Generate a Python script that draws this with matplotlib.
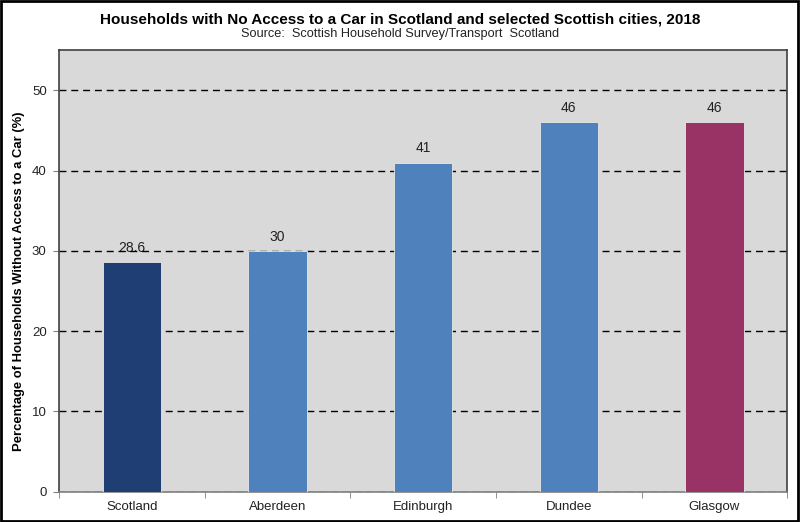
import numpy as np
import matplotlib.pyplot as plt
from matplotlib.patches import Rectangle

plt.rcParams['font.family'] = ['Liberation Sans', 'DejaVu Sans']

places = ["Scotland", "Aberdeen", "Edinburgh", "Dundee", "Glasgow"]
no_car = [28.6, 30, 41, 46, 46]
labels = ["28.6", "30", "41", "46", "46"]
colours = ["#1F3F74", "#4F81BD", "#4F81BD", "#4F81BD", "#993366"]

fig = plt.figure(figsize=(8, 5.22), dpi=100)
ax = fig.add_axes([0.074, 0.058, 0.91, 0.846])
ax.set_facecolor("#D9D9D9")

x = np.arange(len(places))
bars = ax.bar(x, no_car, width=0.4, color=colours, edgecolor="#E8E8E8",
              linewidth=0.6, zorder=3)
for xi, v, lab in zip(x, no_car, labels):
  # labels sit under the dashed grid, as in the original
  ax.text(xi, v + 0.9, lab, ha='center', va='bottom', fontsize=10,
          color='#222222', zorder=0.3)

ax.set_xlim(-0.5, len(places) - 0.5)
ax.set_ylim(0, 55)
ax.set_yticks([0, 10, 20, 30, 40, 50])
ax.set_xticks(x)
ax.set_xticklabels(places)
ax.set_xticks(np.arange(-0.5, len(places), 1), minor=True)
ax.tick_params(axis='x', which='major', length=0, pad=7, labelsize=9.5,
               labelcolor='#222222')
ax.tick_params(axis='x', which='minor', length=4, color='#808080')
ax.tick_params(axis='y', length=4, color='#808080', labelsize=9.5,
               labelcolor='#222222', pad=5)
ax.yaxis.grid(True, color='black', linestyle=(0, (5, 3.5)), linewidth=1.0)
ax.set_axisbelow(True)
for s in ax.spines.values():
  s.set_color('#404040')
  s.set_linewidth(1.2)
ax.spines['bottom'].set_color('#808080')

ax.set_ylabel("Percentage of Households Without Access to a Car (%)",
              fontsize=9.4, fontweight='bold')
ax.yaxis.set_label_coords(-0.047, 0.476)

fig.text(0.5, 0.963, "Households with No Access to a Car in Scotland and selected Scottish cities, 2018",
         ha='center', va='center', fontsize=11, fontweight='bold')
fig.text(0.5, 0.935, "Source:  Scottish Household Survey/Transport  Scotland",
         ha='center', va='center', fontsize=9.2, color='#222222')

fig.patches.append(Rectangle((0.001, 0.002), 0.997, 0.996, transform=fig.transFigure,
                             fill=False, edgecolor='black', linewidth=2))

fig.savefig("out.png", dpi=100)
